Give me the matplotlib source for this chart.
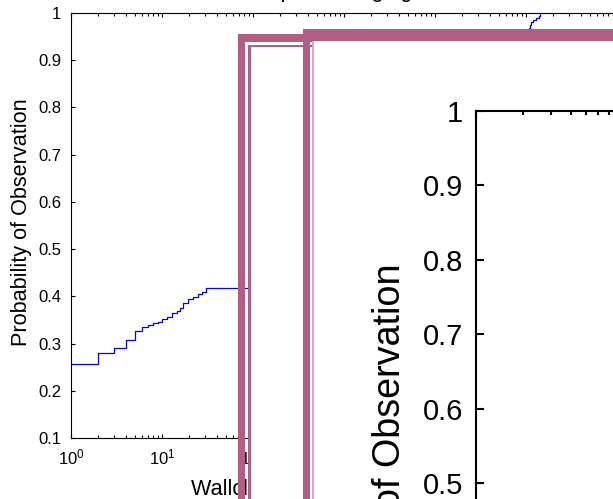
import matplotlib
matplotlib.use('Agg')
import matplotlib.pyplot as plt
from matplotlib.patches import Rectangle
from matplotlib.ticker import FixedLocator, FixedFormatter, LogLocator, NullFormatter
import numpy as np

plt.rcParams['font.family'] = ['Liberation Sans', 'DejaVu Sans']
plt.rcParams['mathtext.fontset'] = 'custom'
plt.rcParams['mathtext.rm'] = 'Liberation Sans'
plt.rcParams['mathtext.it'] = 'Liberation Sans:italic'
plt.rcParams['mathtext.bf'] = 'Liberation Sans:bold'

# ---------------- data ----------------
title_text = "Wallclock Time for Output Averaging"
xlabel_text = "Wallclock Time (s)"
ylabel_text = "Probability of Observation"

ecdf_x = [1, 2, 3, 4, 5, 6, 7, 8, 9, 10, 11.3, 12.8, 14.5, 15.8, 16.9, 19.4, 22, 25, 27.3, 30.3,
          300, 1000, 3000, 10000, 30000, 90000,
          1.08e5, 1.10e5, 1.14e5, 1.18e5, 1.30e5, 1.38e5, 1.41e5]
ecdf_y = [0.256, 0.279, 0.291, 0.307, 0.327, 0.335, 0.340, 0.343, 0.346, 0.352, 0.357, 0.364, 0.369,
          0.375, 0.386, 0.394, 0.399, 0.404, 0.410, 0.417,
          0.52, 0.60, 0.68, 0.78, 0.88, 0.955,
          0.968, 0.975, 0.982, 0.986, 0.989, 0.994, 1.0]

ytick_vals = [0.1, 0.2, 0.3, 0.4, 0.5, 0.6, 0.7, 0.8, 0.9, 1.0]
ytick_labels = ["0.1", "0.2", "0.3", "0.4", "0.5", "0.6", "0.7", "0.8", "0.9", "1"]
inset_ytick_vals = [0.0, 0.1, 0.2, 0.3, 0.4, 0.5, 0.6, 0.7, 0.8, 0.9, 1.0]
inset_ytick_labels = ["0", "0.1", "0.2", "0.3", "0.4", "0.5", "0.6", "0.7", "0.8", "0.9", "1"]
xlim = (1, 1e7)

PINK = '#b15d85'
PINK_LIGHT = '#dba4bf'
BLUE = '#0000ff'

# ---------------- figure ----------------
W, H = 613, 499
fig = plt.figure(figsize=(W / 100, H / 100), dpi=100)
fig.patch.set_facecolor('white')


def fx(px):
    return px / W


def fy(py):
    return 1 - py / H


def rect_px(left, top, right, bottom, color, z):
    r = Rectangle((left / W, 1 - bottom / H), (right - left) / W, (bottom - top) / H,
                  transform=fig.transFigure, facecolor=color, edgecolor='none', zorder=z)
    fig.add_artist(r)


def style_axes(ax, lw, maj_len, min_len, fs, pad):
    ax.set_xscale('log')
    ax.set_xlim(*xlim)
    for s in ax.spines.values():
        s.set_linewidth(lw)
        s.set_color('black')
    ax.xaxis.set_major_locator(LogLocator(base=10, numticks=30))
    ax.xaxis.set_minor_locator(LogLocator(base=10, subs=np.arange(2, 10), numticks=30))
    ax.xaxis.set_minor_formatter(NullFormatter())
    ax.tick_params(which='both', direction='in', top=True, right=True, width=lw,
                   colors='black', labelsize=fs, pad=pad)
    ax.tick_params(which='major', length=maj_len)
    ax.tick_params(which='minor', length=min_len)


# main axes: left spine x=71, top y=13, bottom y=438, 91 px per decade
dec = 91.0
ax = fig.add_axes([fx(71), fy(438), 7 * dec / W, 425 / H], zorder=0)
style_axes(ax, 0.8, 3.2, 1.9, 12, 7.0)
ax.set_ylim(0.1, 1.0)
ax.yaxis.set_major_locator(FixedLocator(ytick_vals))
ax.yaxis.set_major_formatter(FixedFormatter(ytick_labels))
ax.plot(ecdf_x, ecdf_y, drawstyle='steps-post', color=BLUE, lw=0.9)
ax.set_ylabel(ylabel_text, fontsize=15.6, va='baseline')
ax.yaxis.set_label_coords(fx(27.5), fy(222.5), transform=fig.transFigure)
ax.set_xlabel(xlabel_text, fontsize=15.6, loc='left', va='baseline')
ax.xaxis.set_label_coords(fx(191), fy(495), transform=fig.transFigure)
ax.set_title(title_text, fontsize=15.6, loc='left', va='baseline', pad=0,
             x=(64.6 - 71) / (7 * dec), y=1 + 16.0 / 425)

# zoom frame A: thick band, transparent gap, thin line enclosing a white area
rect_px(238.3, 34.3, 245.0, 900, PINK, 1.0)
rect_px(238.3, 34.3, 900, 41.7, PINK, 1.0)
rect_px(248.3, 45.0, 900, 900, PINK, 1.2)
rect_px(250.7, 47.3, 900, 900, 'white', 1.3)

# zoom frame B
rect_px(302.7, 29.3, 310.0, 900, PINK, 2.0)
rect_px(302.7, 29.3, 900, 40.7, PINK, 2.0)
rect_px(311.7, 40.7, 900, 900, PINK_LIGHT, 2.2)
rect_px(314.0, 40.7, 900, 900, 'white', 2.3)

# magnified inset axes: left spine x=476, top y=111, 74.4 px per 0.1, 157 px per decade
idec = 157.0
iax = fig.add_axes([fx(476), fy(111 + 744), 7 * idec / W, 744 / H], zorder=10)
style_axes(iax, 1.5, 5.8, 2.9, 21, 9.4)
iax.set_ylim(0.0, 1.0)
iax.yaxis.set_major_locator(FixedLocator(inset_ytick_vals))
iax.yaxis.set_major_formatter(FixedFormatter(inset_ytick_labels))
iax.plot(ecdf_x, ecdf_y, drawstyle='steps-post', color=BLUE, lw=1.5)
iax.set_ylabel(ylabel_text, fontsize=27.2, va='baseline')
iax.yaxis.set_label_coords(fx(400), fy(479.5), transform=fig.transFigure)

fig.savefig('out.png', dpi=100, facecolor='white')
